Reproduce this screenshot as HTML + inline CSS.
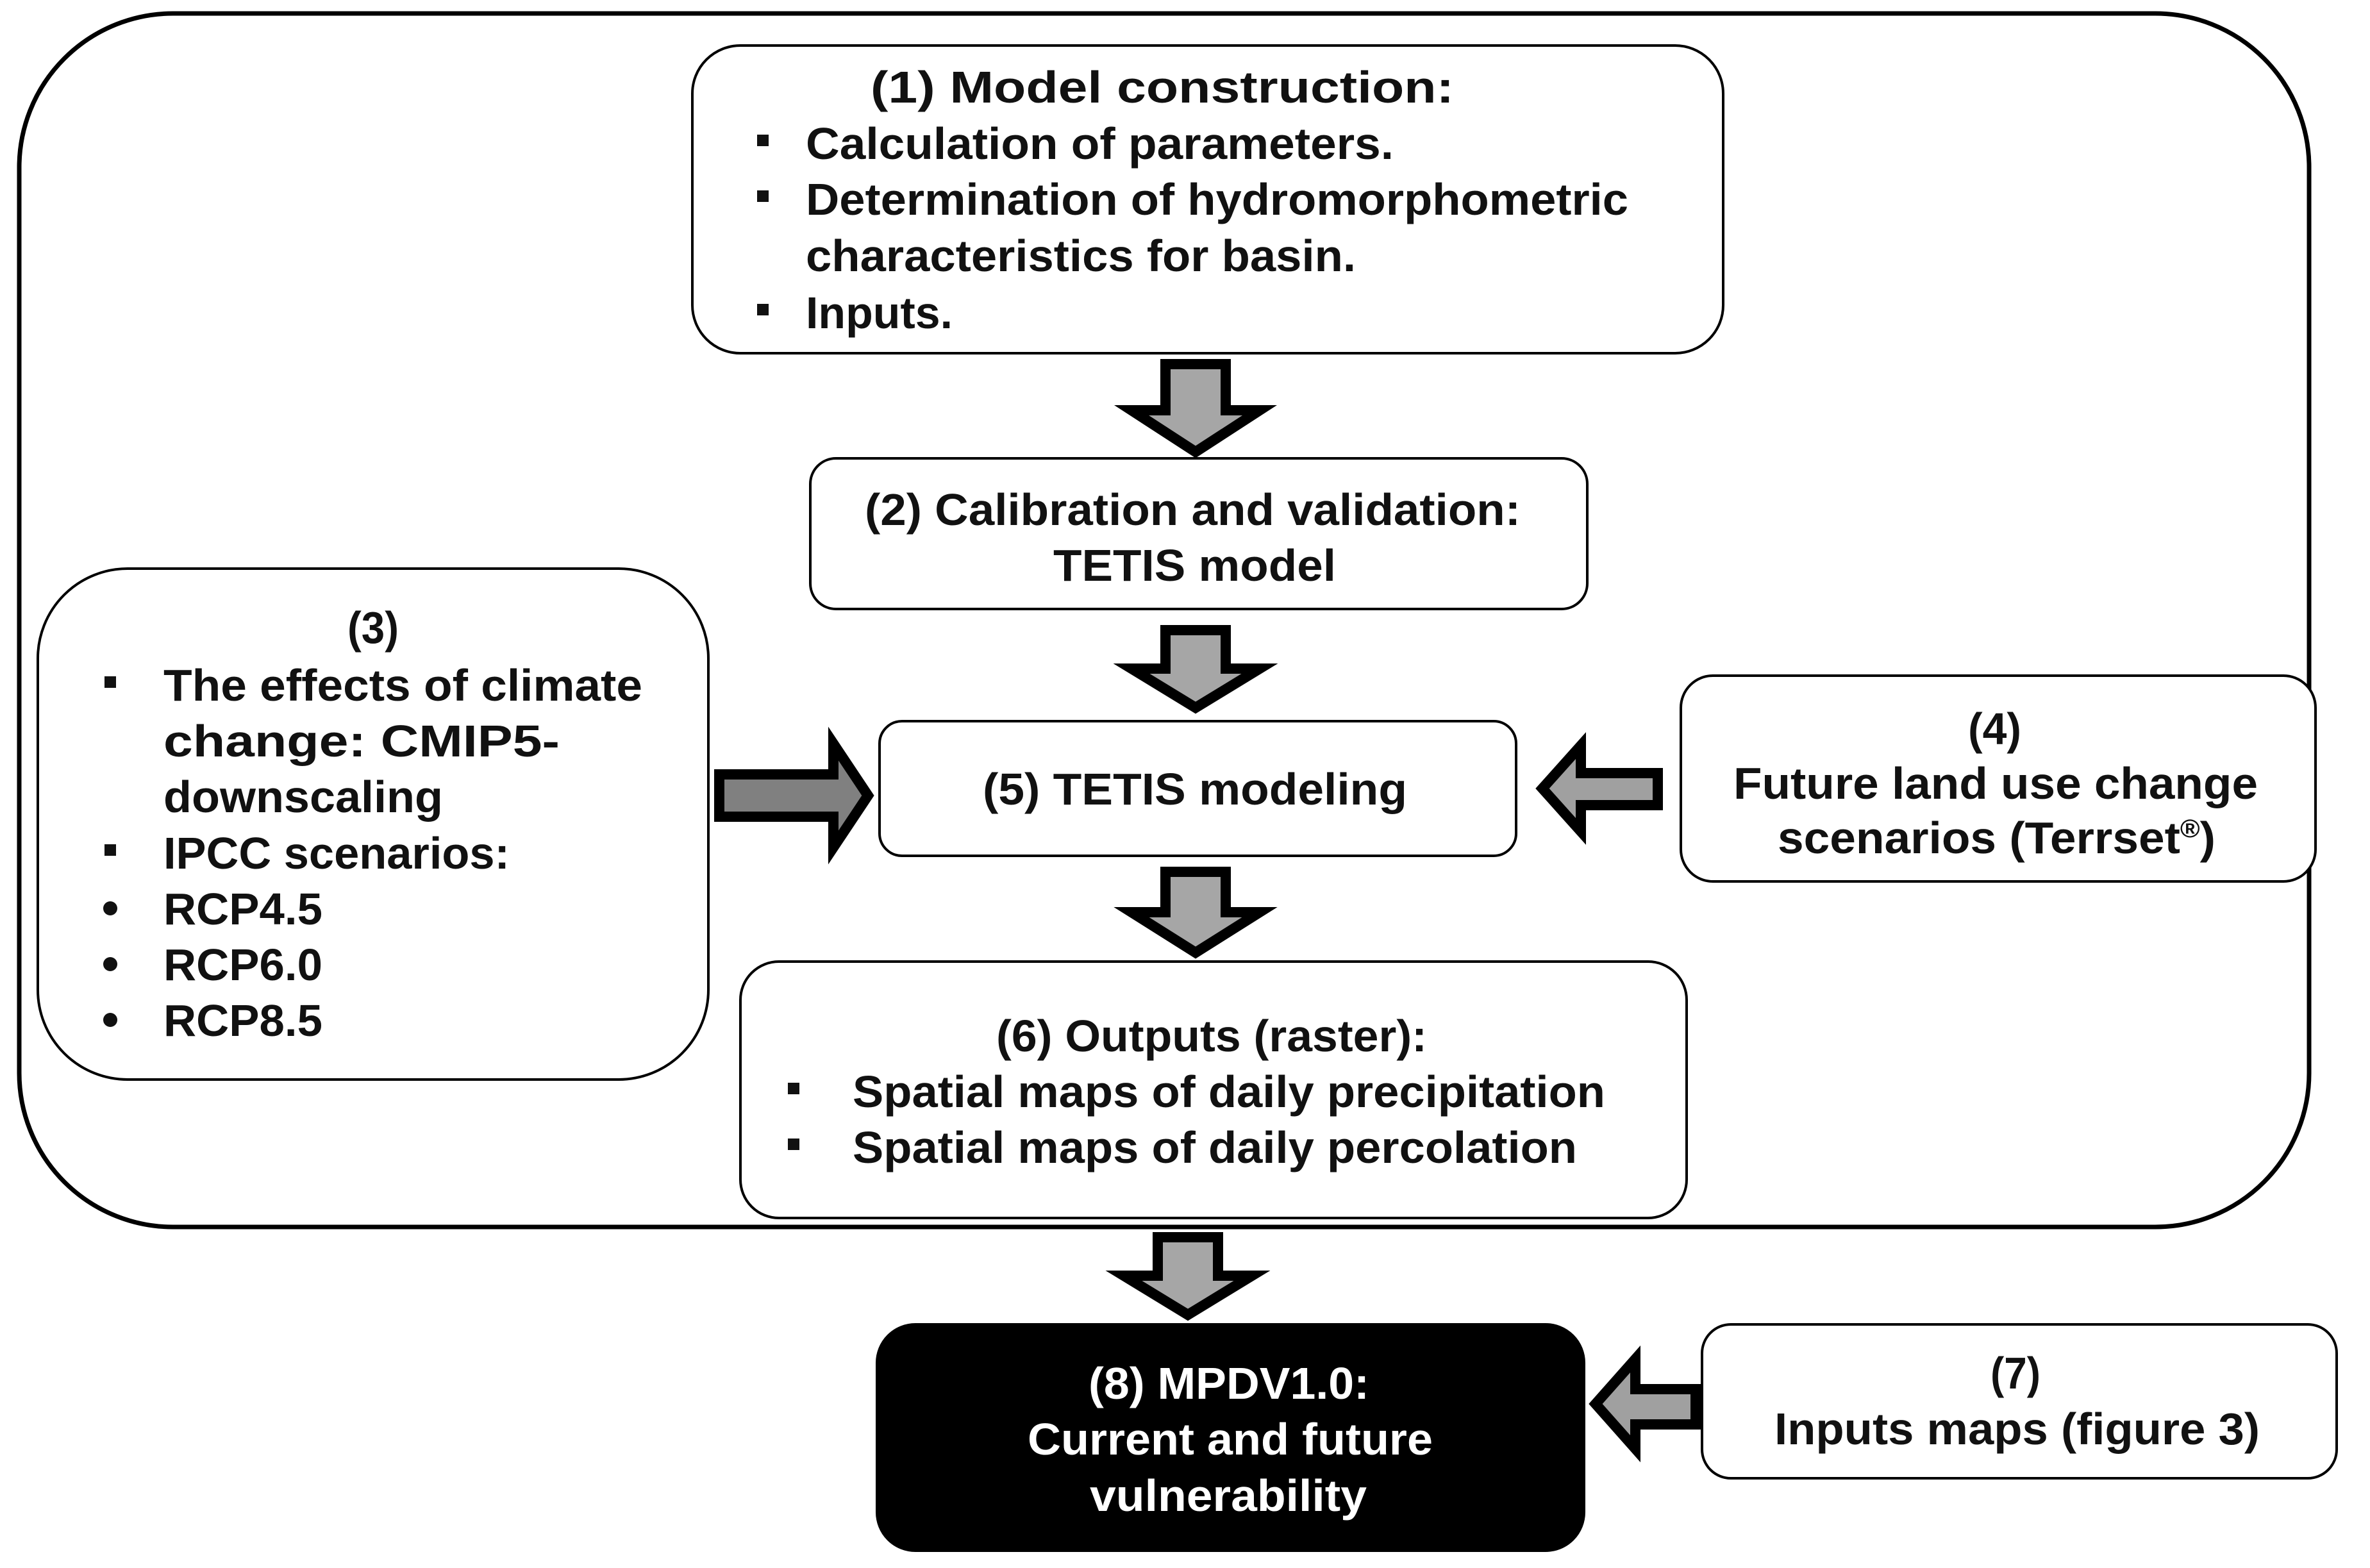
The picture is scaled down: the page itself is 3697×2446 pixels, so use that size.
<!DOCTYPE html>
<html><head><meta charset="utf-8"><style>
html,body{margin:0;padding:0;background:#fff;}
svg{display:block;}
text{font-family:"Liberation Sans",Arial,sans-serif;font-size:70px;fill:#111;}
</style></head><body>
<svg width="3697" height="2446" viewBox="0 0 3697 2446" xmlns="http://www.w3.org/2000/svg">
<rect x="0" y="0" width="3697" height="2446" fill="#fff"/>
<rect x="30" y="21" width="3572" height="1893" rx="240" ry="240" fill="none" stroke="#000" stroke-width="7"/>
<rect x="1080" y="71" width="1608" height="480" rx="75" fill="#fff" stroke="#000" stroke-width="4"/>
<rect x="1264" y="715" width="1212" height="235" rx="40" fill="#fff" stroke="#000" stroke-width="4"/>
<rect x="59" y="887" width="1046" height="797" rx="140" fill="#fff" stroke="#000" stroke-width="4"/>
<rect x="1372" y="1125" width="993" height="210" rx="35" fill="#fff" stroke="#000" stroke-width="4"/>
<rect x="2622" y="1054" width="990" height="321" rx="50" fill="#fff" stroke="#000" stroke-width="4"/>
<rect x="1155" y="1500" width="1476" height="400" rx="60" fill="#fff" stroke="#000" stroke-width="4"/>
<rect x="1368" y="2066" width="1103" height="353" rx="60" fill="#000" stroke="#000" stroke-width="4"/>
<rect x="2655" y="2066" width="990" height="240" rx="45" fill="#fff" stroke="#000" stroke-width="4"/>
<g stroke="#000" stroke-width="16" stroke-linejoin="miter" fill="#a6a6a6">
<polygon points="1818,568 1912,568 1912,640 1965,640 1865,705 1765,640 1818,640"/>
<polygon points="1818,983 1912,983 1912,1043 1965,1043 1865,1104 1765,1043 1818,1043"/>
<polygon points="1818,1360 1912,1360 1912,1423 1965,1423 1865,1486 1765,1423 1818,1423"/>
<polygon points="1806,1930 1900,1930 1900,1990 1953,1990 1853,2051 1753,1990 1806,1990"/>
<polygon points="1122,1208 1300,1208 1300,1160 1354,1241 1300,1322 1300,1274 1122,1274" fill="#808080"/>
<polygon points="2586,1206 2466,1206 2466,1163 2406,1230 2466,1297 2466,1256 2586,1256" fill="#a0a0a0"/>
<polygon points="2645,2167 2551,2167 2551,2120 2489,2190 2551,2260 2551,2222 2645,2222" fill="#a0a0a0"/>
</g>
<g font-weight="bold">
<text x="1358" y="160" textLength="910" lengthAdjust="spacingAndGlyphs">(1) Model construction:</text>
<text x="1257" y="248" textLength="917" lengthAdjust="spacingAndGlyphs">Calculation of parameters.</text>
<text x="1257" y="335" textLength="1283" lengthAdjust="spacingAndGlyphs">Determination of hydromorphometric</text>
<text x="1257" y="423" textLength="858" lengthAdjust="spacingAndGlyphs">characteristics for basin.</text>
<text x="1257" y="512" textLength="229" lengthAdjust="spacingAndGlyphs">Inputs.</text>
<text x="1349" y="819" textLength="1023" lengthAdjust="spacingAndGlyphs">(2) Calibration and validation:</text>
<text x="1643" y="906" textLength="441" lengthAdjust="spacingAndGlyphs">TETIS model</text>
<text x="542" y="1003" textLength="80" lengthAdjust="spacingAndGlyphs">(3)</text>
<text x="255" y="1093" textLength="747" lengthAdjust="spacingAndGlyphs">The effects of climate</text>
<text x="255" y="1180" textLength="618" lengthAdjust="spacingAndGlyphs">change: CMIP5-</text>
<text x="255" y="1267" textLength="436" lengthAdjust="spacingAndGlyphs">downscaling</text>
<text x="255" y="1355" textLength="540" lengthAdjust="spacingAndGlyphs">IPCC scenarios:</text>
<text x="255" y="1442" textLength="248" lengthAdjust="spacingAndGlyphs">RCP4.5</text>
<text x="255" y="1529" textLength="248" lengthAdjust="spacingAndGlyphs">RCP6.0</text>
<text x="255" y="1616" textLength="248" lengthAdjust="spacingAndGlyphs">RCP8.5</text>
<text x="1533" y="1255" textLength="662" lengthAdjust="spacingAndGlyphs">(5) TETIS modeling</text>
<text x="3070" y="1161" textLength="83" lengthAdjust="spacingAndGlyphs">(4)</text>
<text x="2704" y="1246" textLength="818" lengthAdjust="spacingAndGlyphs">Future land use change</text>
<text x="2773" y="1331" textLength="683" lengthAdjust="spacingAndGlyphs">scenarios (Terrset<tspan font-size="40" dy="-25">®</tspan><tspan dy="25">)</tspan></text>
<text x="1554" y="1640" textLength="672" lengthAdjust="spacingAndGlyphs">(6) Outputs (raster):</text>
<text x="1330" y="1727" textLength="1174" lengthAdjust="spacingAndGlyphs">Spatial maps of daily precipitation</text>
<text x="1330" y="1814" textLength="1130" lengthAdjust="spacingAndGlyphs">Spatial maps of daily percolation</text>
<text x="1698" y="2182" textLength="438" lengthAdjust="spacingAndGlyphs" style="fill:#fff">(8) MPDV1.0:</text>
<text x="1603" y="2269" textLength="632" lengthAdjust="spacingAndGlyphs" style="fill:#fff">Current and future</text>
<text x="1700" y="2357" textLength="432" lengthAdjust="spacingAndGlyphs" style="fill:#fff">vulnerability</text>
<text x="3105" y="2166" textLength="78" lengthAdjust="spacingAndGlyphs">(7)</text>
<text x="2768" y="2253" textLength="757" lengthAdjust="spacingAndGlyphs">Inputs maps (figure 3)</text>
</g>
<g fill="#111">
<rect x="1181" y="210" width="18" height="18"/>
<rect x="1181" y="297" width="18" height="18"/>
<rect x="1181" y="474" width="18" height="18"/>
<rect x="163" y="1055" width="18" height="18"/>
<rect x="163" y="1317" width="18" height="18"/>
<circle cx="172" cy="1417" r="11"/>
<circle cx="172" cy="1504" r="11"/>
<circle cx="172" cy="1591" r="11"/>
<rect x="1229" y="1689" width="18" height="18"/>
<rect x="1229" y="1776" width="18" height="18"/>
</g>
</svg>
</body></html>
